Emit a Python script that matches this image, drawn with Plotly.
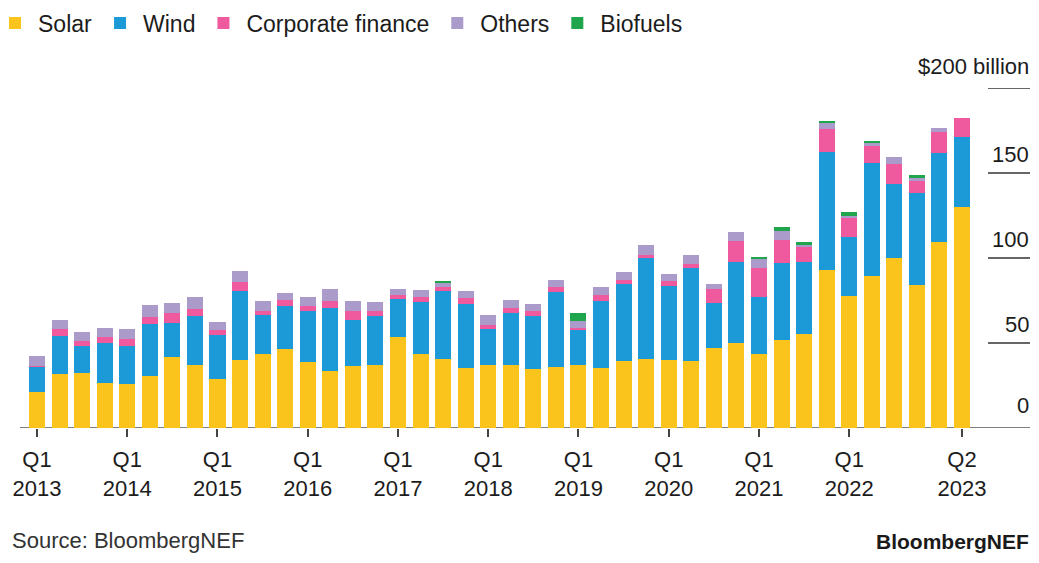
import plotly.graph_objects as go

quarters = [f"Q{q} {y}" for y in range(2013, 2024) for q in range(1, 5)][:42]

solar = [21, 31.6, 32.2, 26.7, 25.9, 30.8, 41.9, 37.1, 28.6, 40, 43.3, 46.3, 39, 33.5, 36.7,
         37.1, 53.3, 43.3, 40.6, 35.5, 37.1, 37.1, 34.5, 36.1, 37.1, 35.1, 39.4, 40.4, 40, 39.6,
         46.9, 49.8, 43.3, 51.8, 55.1, 92.9, 77.6, 89.4, 100.2, 84.1, 109.6, 129.8]
wind = [14.9, 22.7, 16.2, 23.5, 22.5, 30.4, 19.7, 28.9, 26.1, 40.8, 23, 25.7, 30, 37.3, 26.8,
        28.8, 22.4, 31, 40, 37.4, 21, 30.7, 31.4, 43.7, 20.5, 39.6, 45.1, 59.8, 43.5, 54.3,
        26.4, 48, 33.9, 45.1, 42.7, 69.6, 34.9, 66.7, 43.3, 53.9, 52.3, 41.6]
corporate = [0.8, 3.8, 3, 3.1, 3.8, 3.9, 5.9, 4, 2.9, 5.3, 2.7, 3.3, 3, 3.9, 5.5, 2.9, 2.5, 3,
             2.1, 3.4, 2.5, 2.6, 2.9, 2.9, 1.4, 3.5, 2.6, 1.6, 3.2, 2.6, 8.3, 12.4, 17.1, 13.7,
             8.5, 13.2, 10.8, 9.8, 11.6, 7.5, 12.4, 10.8]
others = [5.9, 5.2, 5.1, 5.7, 6.2, 7.1, 5.8, 7.2, 4.8, 6.4, 5.9, 4.3, 5, 6.9, 5.9, 5.3, 3.6, 3.9,
          2.4, 4.3, 5.9, 4.9, 4.1, 4.4, 3.9, 4.5, 4.8, 5.8, 3.9, 5.3, 3.1, 5.3, 5.5, 5.5, 1.8,
          3.5, 1.6, 1.9, 4.1, 1.4, 2.0, 0]
biofuels = [0, 0, 0, 0, 0, 0, 0, 0, 0, 0, 0, 0, 0, 0, 0, 0, 0, 0, 1.6, 0, 0, 0, 0, 0, 4.6, 0,
            0, 0, 0, 0, 0, 0, 1.0, 2.3, 1.1, 1.6, 2.0, 0.8, 0, 1.9, 0, 0]

series = [("Solar", solar, "#FBC41C"), ("Wind", wind, "#1B9AD7"),
          ("Corporate finance", corporate, "#EE5A9D"), ("Others", others, "#AA9BCB"),
          ("Biofuels", biofuels, "#1FA54C")]

tick_vals = [q for q in quarters if q.startswith("Q1") and not q.endswith("2023")] + ["Q2 2023"]
tick_text = [q.replace(" ", "<br>") for q in tick_vals]
y_ticks = [0, 50, 100, 150, 200]
y_labels = ["0", "50", "100", "150", "$200 billion"]

FONT = "Liberation Sans, Arial, sans-serif"
TXT = "#1c1c1c"

fig = go.Figure()
for name, vals, col in series:
    fig.add_trace(go.Bar(x=quarters, y=vals, name=name, marker=dict(color=col, line=dict(width=0))))

# page body adds an 8px margin, so the figure is drawn 8px left/up of the reference coordinates
ML, MR, MT, MB = 12, 54, 80, 127
W, H = 1031, 547
W_PLOT = W - ML - MR
H_PLOT = H - MT - MB
x_right = (1022 - ML) / W_PLOT
shapes = [dict(type="line", xref="paper", yref="y", x0=0, x1=x_right, y0=0, y1=0,
               line=dict(color="#555555", width=1.5), layer="below")]
for v in y_ticks[1:]:
    shapes.append(dict(type="line", xref="paper", yref="y", x0=(980 - ML) / W_PLOT, x1=x_right,
                       y0=v, y1=v, line=dict(color="#333333", width=1.5)))

annotations = []
for v, lab in zip(y_ticks, y_labels):
    annotations.append(dict(xref="paper", yref="y", x=x_right, y=v, text=lab, showarrow=False,
                            xanchor="right", yanchor="bottom", xshift=1,
                            yshift=8 if v == 0 else (7 if v == 200 else 4),
                            font=dict(family=FONT, size=22, color=TXT)))
foot_y = -MB / H_PLOT
annotations.append(dict(xref="paper", yref="paper", x=(2 - ML) / W_PLOT, y=foot_y,
                        text="Source: BloombergNEF", showarrow=False, xanchor="left", yanchor="bottom",
                        font=dict(family=FONT, size=22, color="#333333")))
annotations.append(dict(xref="paper", yref="paper", x=x_right, y=foot_y, xshift=1,
                        text="<b>BloombergNEF</b>", showarrow=False, xanchor="right", yanchor="bottom",
                        font=dict(family=FONT, size=21, color="#1a1a1a")))

fig.update_layout(
    width=W, height=H, barmode="stack", bargap=0.29,
    margin=dict(l=ML, r=MR, t=MT, b=MB, autoexpand=False),
    paper_bgcolor="white", plot_bgcolor="white",
    font=dict(family=FONT, size=22, color=TXT),
    shapes=shapes, annotations=annotations,
    legend=dict(orientation="h", x=(-16 - ML) / W_PLOT, xanchor="left",
                y=1 + (MT - 15) / H_PLOT, yanchor="middle", itemwidth=36,
                font=dict(family=FONT, size=23, color=TXT), traceorder="normal",
                itemclick=False, bgcolor="rgba(0,0,0,0)"),
    xaxis=dict(type="category", range=[-0.754, 42.02], tickmode="array", tickvals=tick_vals,
               ticktext=tick_text, tickangle=0, automargin=False, ticklabelstandoff=4,
               ticks="outside", ticklen=8, tickcolor="#444444", tickwidth=1.5,
               showgrid=False, showline=False, zeroline=False,
               tickfont=dict(family=FONT, size=22, color=TXT)),
    yaxis=dict(range=[0, 200], showgrid=False, showticklabels=False, zeroline=False,
               showline=False, ticks="", automargin=False),
)

fig.write_html("out.html")
